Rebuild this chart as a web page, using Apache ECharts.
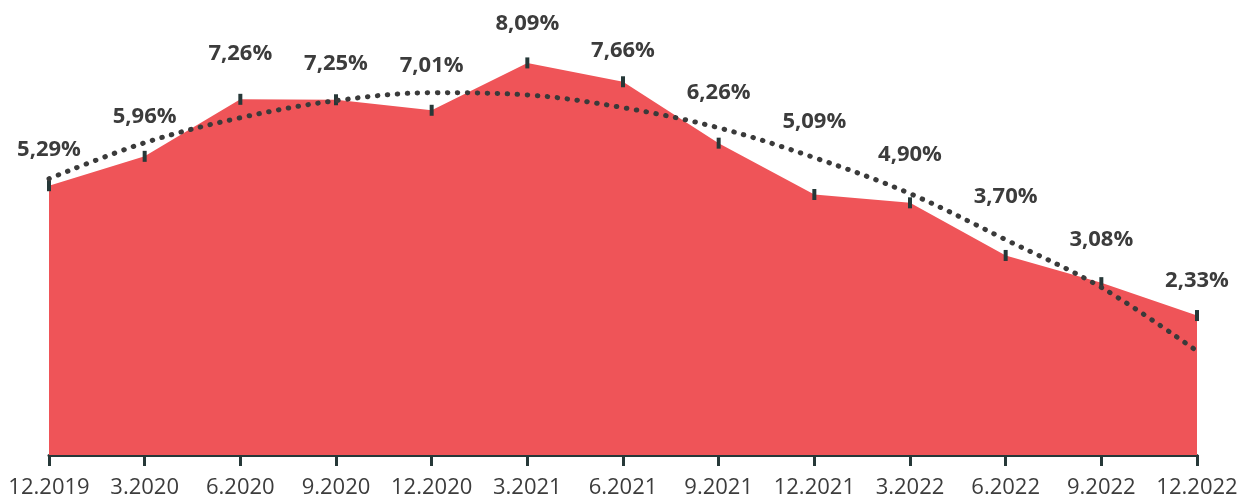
<!DOCTYPE html>
<html>
<head>
<meta charset="utf-8">
<style>
  html, body { margin: 0; padding: 0; background: #ffffff; }
  #chart { width: 1242px; height: 499px; }
</style>
<script src="https://cdn.jsdelivr.net/npm/echarts@6/dist/echarts.min.js"></script>
</head>
<body>
<div id="chart"></div>
<script>
// Quarter-end labels
const quarters = ['12.2019', '3.2020', '6.2020', '9.2020', '12.2020', '3.2021', '6.2021',
                  '9.2021', '12.2021', '3.2022', '6.2022', '9.2022', '12.2022'];

// Rate per quarter, in percent
const rates = [5.29, 5.96, 7.26, 7.25, 7.01, 8.09, 7.66, 6.26, 5.09, 4.90, 3.70, 3.08, 2.33];

// Trend curve through the same quarters, in percent
const trend = [5.45, 6.27, 6.84, 7.23, 7.41, 7.36, 7.07, 6.61, 5.93, 5.11, 4.06, 2.97, 1.52];

// How far each value label sits from its point (px, negative = up)
const labelLift = [-36, -40, -46, -36, -45, -39, -31, -50, -73, -48, -59, -43, -35];

const ink = '#263838';
const textColor = '#3c3c3c';

const chart = echarts.init(document.getElementById('chart'), null, { renderer: 'canvas' });

chart.setOption({
  animation: false,
  backgroundColor: '#ffffff',
  grid: { left: 49, right: 45, top: 23, bottom: 43 },
  xAxis: {
    type: 'category',
    data: quarters,
    boundaryGap: false,
    axisLine: { show: true, onZero: false, lineStyle: { color: ink, width: 3 } },
    axisTick: { show: true, alignWithLabel: true, length: 11, lineStyle: { color: ink, width: 3 } },
    axisLabel: {
      color: textColor,
      fontFamily: 'Open Sans',
      fontSize: 22,
      margin: 22,
      interval: 0
    },
    splitLine: { show: false }
  },
  yAxis: {
    type: 'value',
    min: -0.85,
    max: 9,
    show: false
  },
  series: [
    {
      name: 'rate',
      type: 'line',
      data: rates.map((v, i) => ({
        value: v,
        label: { offset: [0, labelLift[i]] }
      })),
      symbol: 'rect',
      symbolSize: [4, 11],
      showSymbol: true,
      showAllSymbol: true,
      itemStyle: { color: ink },
      lineStyle: { width: 0, color: '#EF5458' },
      areaStyle: { color: '#EF5458', opacity: 1, origin: 'start' },
      label: {
        show: true,
        position: 'inside',
        color: textColor,
        fontFamily: 'Open Sans',
        fontWeight: 'bold',
        fontSize: 22,
        formatter: p => p.value.toFixed(2).replace('.', ',') + '%'
      },
      z: 2
    },
    {
      name: 'trend',
      type: 'line',
      data: trend,
      smooth: 0.35,
      symbol: 'none',
      lineStyle: {
        color: '#3a3a3a',
        width: 5,
        type: [0.5, 9.5],
        cap: 'round'
      },
      z: 3
    }
  ]
});
</script>
</body>
</html>
